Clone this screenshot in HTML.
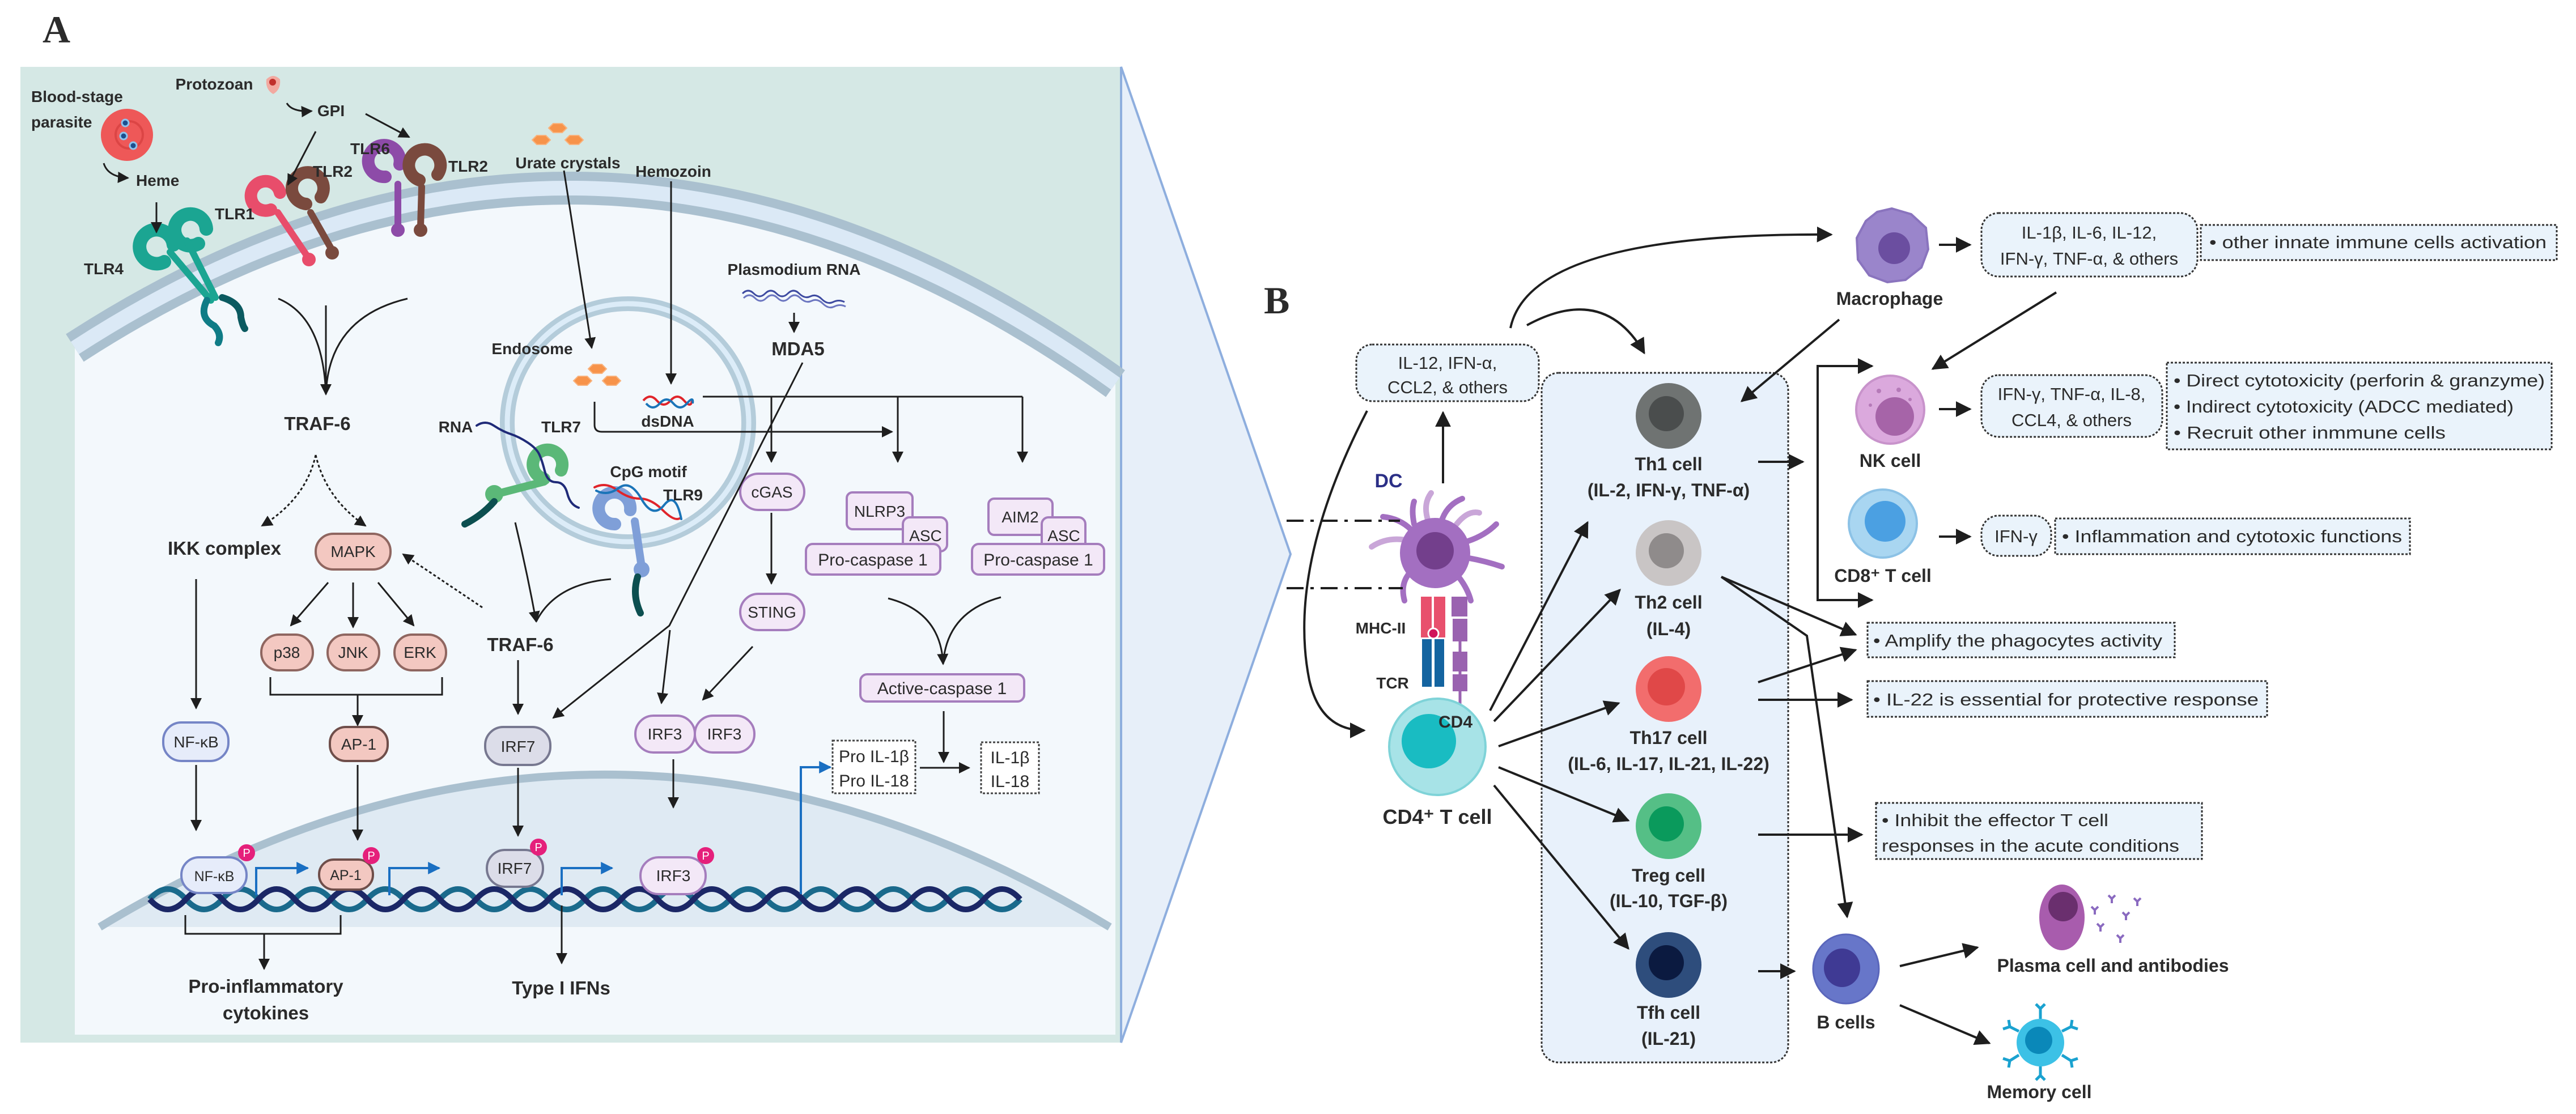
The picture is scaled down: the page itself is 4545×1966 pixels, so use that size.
<!DOCTYPE html>
<html><head><meta charset="utf-8"><style>
html,body{margin:0;padding:0;background:#fff}
svg{display:block}
text{font-family:"Liberation Sans",sans-serif;fill:#2b2b2b}
.b{font-weight:bold}
</style></head><body>
<svg width="4545" height="1966" viewBox="0 0 4545 1966" xmlns="http://www.w3.org/2000/svg">
<defs>
<marker id="a" viewBox="0 0 10 10" refX="9" refY="5" markerWidth="20" markerHeight="20" markerUnits="userSpaceOnUse" orient="auto"><path d="M0,0L10,5L0,10z" fill="#1e1e1e"/></marker>
<marker id="al" viewBox="0 0 10 10" refX="9" refY="5" markerWidth="28" markerHeight="28" markerUnits="userSpaceOnUse" orient="auto"><path d="M0,0L10,5L0,10z" fill="#1e1e1e"/></marker>
<marker id="ab" viewBox="0 0 10 10" refX="9" refY="5" markerWidth="22" markerHeight="22" markerUnits="userSpaceOnUse" orient="auto"><path d="M0,0L10,5L0,10z" fill="#1a6fc2"/></marker>
</defs>

<!-- labels A / B -->
<text x="75" y="75" style="font-family:'Liberation Serif',serif;font-weight:bold;font-size:68px" fill="#000">A</text>
<text x="2230" y="553" style="font-family:'Liberation Serif',serif;font-weight:bold;font-size:68px" fill="#000">B</text>

<!-- PANEL A background -->
<polygon points="1978,118 2277,978 1978,1840" fill="#e7eff9" stroke="#8eaede" stroke-width="4"/>
<rect x="36" y="118" width="1942" height="1722" fill="#d5e8e5"/>
<line x1="1978" y1="118" x2="1978" y2="1840" stroke="#8eaede" stroke-width="4"/>
<path d="M132,614 Q1050,20 1968,677 L1968,1826 L132,1826 Z" fill="#f3f8fc"/>
<path d="M132,614 Q1050,20 1968,677" fill="none" stroke="#aac0cf" stroke-width="58"/>
<path d="M132,614 Q1050,20 1968,677" fill="none" stroke="#dbe9f6" stroke-width="26"/>
<!-- nucleus -->
<path d="M176,1636 Q1067,1098 1958,1636 Z" fill="#dfeaf3"/>
<path d="M176,1636 Q1067,1098 1958,1636" fill="none" stroke="#aac0cf" stroke-width="14"/>
<!-- endosome -->
<ellipse cx="1108" cy="746" rx="213" ry="210" fill="none" stroke="#b4ccda" stroke-width="26"/>
<ellipse cx="1108" cy="746" rx="213" ry="210" fill="none" stroke="#dcecf8" stroke-width="9"/>

<!-- DNA helix -->
<path d="M264,1587 q32,-36 64,0 t64,0 t64,0 t64,0 t64,0 t64,0 t64,0 t64,0 t64,0 t64,0 t64,0 t64,0 t64,0 t64,0 t64,0 t64,0 t64,0 t64,0 t64,0 t64,0 t64,0 t64,0 t64,0 t64,0" fill="none" stroke="#1a6a8c" stroke-width="10"/>
<path d="M264,1587 q32,36 64,0 t64,0 t64,0 t64,0 t64,0 t64,0 t64,0 t64,0 t64,0 t64,0 t64,0 t64,0 t64,0 t64,0 t64,0 t64,0 t64,0 t64,0 t64,0 t64,0 t64,0 t64,0 t64,0 t64,0" fill="none" stroke="#1b2766" stroke-width="10"/>

<!-- red blood cell & protozoan -->
<circle cx="224" cy="238" r="46" fill="#ee5858"/>
<circle cx="228" cy="238" r="24" fill="none" stroke="#dc4545" stroke-width="4"/>
<circle cx="221" cy="217" r="6" fill="#1d4f8f" stroke="#8ec3ee" stroke-width="3"/>
<circle cx="218" cy="240" r="6" fill="#1d4f8f" stroke="#8ec3ee" stroke-width="3"/>
<circle cx="235" cy="257" r="6" fill="#1d4f8f" stroke="#8ec3ee" stroke-width="3"/>
<path d="M470,140 Q482,128 494,140 Q496,158 482,166 Q468,158 470,140Z" fill="#f2a9a0"/>
<circle cx="481" cy="145" r="6" fill="#c0302c"/>
<!-- urate crystals -->
<g fill="#f7934a" stroke="#f9b27c" stroke-width="2">
<polygon points="968,226 976,218 992,218 1000,226 992,234 976,234"/>
<polygon points="939,247 947,239 963,239 971,247 963,255 947,255"/>
<polygon points="997,247 1005,239 1021,239 1029,247 1021,255 1005,255"/>
<polygon points="1038,651 1046,643 1062,643 1070,651 1062,659 1046,659"/>
<polygon points="1012,672 1020,664 1036,664 1044,672 1036,680 1020,680"/>
<polygon points="1063,672 1071,664 1087,664 1095,672 1087,680 1071,680"/>
</g>
<!-- plasmodium RNA -->
<path d="M1310,518 q10,-10 20,0 t20,0 t20,0 t20,0 t20,0 t20,5 t20,5 t20,5 t20,0" fill="none" stroke="#3d4aa0" stroke-width="3"/>
<path d="M1312,526 q10,-10 20,0 t20,0 t20,0 t20,0 t20,0 t20,5 t20,5 t20,5 t20,0" fill="none" stroke="#6c76c0" stroke-width="3"/>
<!-- dsDNA small -->
<path d="M1135,707 q12,-14 24,0 t24,0 t24,0 t14,0" fill="none" stroke="#e0242a" stroke-width="4"/>
<path d="M1140,712 q12,14 24,0 t24,0 t24,0 t10,0" fill="none" stroke="#1a74b8" stroke-width="4"/>

<!-- receptors -->
<g stroke-linecap="round" fill="none">
<!-- TLR4 teal -->
<path d="M290,462 A30,30 0 1 1 306,432" stroke="#1ba592" stroke-width="24"/>
<path d="M350,430 A28,28 0 1 1 364,404" stroke="#1ba592" stroke-width="24"/>
<path d="M300,445 L372,530 M330,425 L380,525" stroke="#1ba592" stroke-width="12"/>
<path d="M365,530 Q350,560 378,575 Q392,590 385,605" stroke="#0f7c86" stroke-width="12"/>
<path d="M392,525 Q425,535 425,560 Q428,575 432,580" stroke="#0b5a60" stroke-width="12"/>
<!-- TLR1 pink -->
<path d="M478,370 A26,26 0 1 1 494,340" stroke="#e84d6b" stroke-width="22"/>
<path d="M490,375 L542,452" stroke="#e84d6b" stroke-width="12"/>
<circle cx="545" cy="458" r="12" fill="#e84d6b"/>
<!-- TLR2 brown -->
<path d="M540,360 A28,28 0 1 1 566,348" stroke="#7a4a3e" stroke-width="22"/>
<path d="M548,375 L585,440" stroke="#7a4a3e" stroke-width="12"/>
<circle cx="586" cy="446" r="12" fill="#7a4a3e"/>
<!-- TLR6 purple -->
<path d="M680,312 A28,28 0 1 1 705,290" stroke="#8d4ba8" stroke-width="22"/>
<path d="M702,325 L702,400" stroke="#8d4ba8" stroke-width="12"/>
<circle cx="702" cy="406" r="12" fill="#8d4ba8"/>
<!-- TLR2 brown -->
<path d="M740,318 A28,28 0 1 1 772,308" stroke="#7a4a3e" stroke-width="22"/>
<path d="M744,330 L742,400" stroke="#7a4a3e" stroke-width="12"/>
<circle cx="742" cy="406" r="12" fill="#7a4a3e"/>
<!-- TLR7 green -->
<path d="M960,845 A26,26 0 1 1 990,830" stroke="#5bb878" stroke-width="22"/>
<path d="M960,850 L875,872" stroke="#5bb878" stroke-width="14"/>
<circle cx="872" cy="872" r="16" fill="#5bb878"/>
<path d="M872,885 Q850,910 820,925" stroke="#0c4f50" stroke-width="12"/>
<!-- TLR9 blue -->
<path d="M1085,925 A28,28 0 1 1 1112,900" stroke="#7f9fd8" stroke-width="22"/>
<path d="M1120,920 L1132,1000" stroke="#7f9fd8" stroke-width="14"/>
<circle cx="1132" cy="1005" r="14" fill="#7f9fd8"/>
<path d="M1125,1018 Q1115,1050 1130,1082" stroke="#0c4f50" stroke-width="12"/>
<!-- RNA / CpG -->
<path d="M841,751 q15,-10 30,0 t30,15 t30,15 t20,20 t10,30 t20,20 t20,20 t20,25" stroke="#1f2a78" stroke-width="4"/>
<path d="M1049,860 q20,-10 40,5 t40,15 t40,20 t30,15" stroke="#e0242a" stroke-width="4"/>
<path d="M1052,866 q20,10 40,-5 t40,20 t40,10 t30,25" stroke="#1a74b8" stroke-width="4"/>
</g>

<!-- Panel A text -->
<g class="b" style="font-size:28px;font-weight:bold">
<text x="55" y="180">Blood-stage</text>
<text x="55" y="225">parasite</text>
<text x="240" y="328">Heme</text>
<text x="378" y="158" text-anchor="middle">Protozoan</text>
<text x="584" y="205" text-anchor="middle">GPI</text>
<text x="653" y="272" text-anchor="middle">TLR6</text>
<text x="587" y="312" text-anchor="middle">TLR2</text>
<text x="826" y="303" text-anchor="middle">TLR2</text>
<text x="414" y="387" text-anchor="middle">TLR1</text>
<text x="183" y="484" text-anchor="middle">TLR4</text>
<text x="1002" y="297" text-anchor="middle">Urate crystals</text>
<text x="1188" y="312" text-anchor="middle">Hemozoin</text>
<text x="1401" y="485" text-anchor="middle">Plasmodium RNA</text>
<text x="939" y="625" text-anchor="middle">Endosome</text>
<text x="1178" y="753" text-anchor="middle">dsDNA</text>
<text x="804" y="763" text-anchor="middle">RNA</text>
<text x="990" y="763" text-anchor="middle">TLR7</text>
<text x="1144" y="842" text-anchor="middle">CpG motif</text>
<text x="1205" y="883" text-anchor="middle">TLR9</text>
</g>
<g style="font-size:33px;font-weight:bold">
<text x="1408" y="627" text-anchor="middle">MDA5</text>
<text x="560" y="759" text-anchor="middle">TRAF-6</text>
<text x="918" y="1149" text-anchor="middle">TRAF-6</text>
<text x="396" y="979" text-anchor="middle">IKK complex</text>
<text x="469" y="1752" text-anchor="middle">Pro-inflammatory</text>
<text x="469" y="1799" text-anchor="middle">cytokines</text>
<text x="990" y="1755" text-anchor="middle">Type I IFNs</text>
</g>

<!-- pills -->
<g style="font-size:28px" text-anchor="middle">
<rect x="557" y="942" width="132" height="63" rx="31" fill="#f3c8c1" stroke="#8f6660" stroke-width="4"/><text x="623" y="983">MAPK</text>
<rect x="461" y="1120" width="91" height="63" rx="31" fill="#f3c8c1" stroke="#8f6660" stroke-width="4"/><text x="506" y="1161">p38</text>
<rect x="578" y="1120" width="91" height="63" rx="31" fill="#f3c8c1" stroke="#8f6660" stroke-width="4"/><text x="623" y="1161">JNK</text>
<rect x="696" y="1120" width="91" height="63" rx="31" fill="#f3c8c1" stroke="#8f6660" stroke-width="4"/><text x="741" y="1161">ERK</text>
<rect x="582" y="1283" width="102" height="60" rx="28" fill="#f3c8c1" stroke="#6f4e4a" stroke-width="4"/><text x="633" y="1323">AP-1</text>
<rect x="288" y="1275" width="115" height="68" rx="32" fill="#e6ecfa" stroke="#7585c6" stroke-width="4"/><text x="346" y="1319">NF-κB</text>
<rect x="856" y="1283" width="115" height="67" rx="32" fill="#dcdde9" stroke="#777890" stroke-width="4"/><text x="914" y="1327">IRF7</text>
<rect x="1121" y="1263" width="105" height="65" rx="32" fill="#f3e8f7" stroke="#a57dbd" stroke-width="4"/><text x="1173" y="1305">IRF3</text>
<rect x="1226" y="1263" width="105" height="65" rx="32" fill="#f3e8f7" stroke="#a57dbd" stroke-width="4"/><text x="1278" y="1305">IRF3</text>
<rect x="1306" y="836" width="113" height="64" rx="32" fill="#f3e8f7" stroke="#a57dbd" stroke-width="4"/><text x="1362" y="878">cGAS</text>
<rect x="1306" y="1048" width="113" height="64" rx="32" fill="#f3e8f7" stroke="#a57dbd" stroke-width="4"/><text x="1362" y="1090">STING</text>
<!-- nuclear -->
<rect x="320" y="1513" width="115" height="63" rx="31" fill="#e6ecfa" stroke="#7585c6" stroke-width="4"/><text x="378" y="1555" style="font-size:25px">NF-κB</text>
<rect x="563" y="1517" width="95" height="53" rx="26" fill="#f3c8c1" stroke="#6f4e4a" stroke-width="4"/><text x="610" y="1553" style="font-size:25px">AP-1</text>
<rect x="859" y="1500" width="99" height="65" rx="32" fill="#dcdde9" stroke="#777890" stroke-width="4"/><text x="908" y="1542">IRF7</text>
<rect x="1130" y="1513" width="115" height="65" rx="32" fill="#f3e8f7" stroke="#a57dbd" stroke-width="4"/><text x="1188" y="1555">IRF3</text>
<!-- inflammasome -->
<rect x="1494" y="869" width="116" height="65" rx="10" fill="#f3e8f7" stroke="#a57dbd" stroke-width="4"/><text x="1552" y="912">NLRP3</text>
<rect x="1593" y="913" width="78" height="60" rx="12" fill="#f3e8f7" stroke="#a57dbd" stroke-width="4"/><text x="1633" y="955">ASC</text>
<rect x="1422" y="960" width="237" height="54" rx="12" fill="#f3e8f7" stroke="#a57dbd" stroke-width="4"/><text x="1540" y="998" style="font-size:30px">Pro-caspase 1</text>
<rect x="1744" y="880" width="113" height="64" rx="10" fill="#f3e8f7" stroke="#a57dbd" stroke-width="4"/><text x="1800" y="922">AIM2</text>
<rect x="1838" y="913" width="77" height="60" rx="12" fill="#f3e8f7" stroke="#a57dbd" stroke-width="4"/><text x="1877" y="955">ASC</text>
<rect x="1715" y="960" width="233" height="54" rx="12" fill="#f3e8f7" stroke="#a57dbd" stroke-width="4"/><text x="1832" y="998" style="font-size:30px">Pro-caspase 1</text>
<rect x="1518" y="1190" width="289" height="48" rx="12" fill="#f3e8f7" stroke="#a57dbd" stroke-width="4"/><text x="1662" y="1225" style="font-size:30px">Active-caspase 1</text>
<rect x="1469" y="1307" width="146" height="93" fill="#fff" stroke="#444" stroke-width="3" stroke-dasharray="4 3"/>
<text x="1542" y="1345" style="font-size:30px">Pro IL-1β</text><text x="1542" y="1388" style="font-size:30px">Pro IL-18</text>
<rect x="1731" y="1310" width="102" height="90" fill="#fff" stroke="#444" stroke-width="3" stroke-dasharray="4 3"/>
<text x="1782" y="1347" style="font-size:30px">IL-1β</text><text x="1782" y="1389" style="font-size:30px">IL-18</text>
</g>
<!-- P badges -->
<g font-size="20" text-anchor="middle">
<circle cx="435" cy="1505" r="15" fill="#e5207b"/><text x="435" y="1512" fill="#fff" style="fill:#fff;font-size:20px">P</text>
<circle cx="655" cy="1510" r="15" fill="#e5207b"/><text x="655" y="1517" style="fill:#fff;font-size:20px">P</text>
<circle cx="950" cy="1495" r="15" fill="#e5207b"/><text x="950" y="1502" style="fill:#fff;font-size:20px">P</text>
<circle cx="1245" cy="1510" r="15" fill="#e5207b"/><text x="1245" y="1517" style="fill:#fff;font-size:20px">P</text>
</g>

<!-- Panel A connectors -->
<g fill="none" stroke="#1e1e1e" stroke-width="3">
<path d="M183,288 Q190,312 226,314" marker-end="url(#a)"/>
<path d="M276,357 L276,410" marker-end="url(#a)"/>
<path d="M506,182 Q515,198 550,196" marker-end="url(#a)"/>
<path d="M557,232 L508,326" marker-end="url(#a)"/>
<path d="M645,201 L722,242" marker-end="url(#a)"/>
<path d="M491,527 Q570,560 575,696"/><path d="M575,539 L575,696" marker-end="url(#a)"/><path d="M719,527 Q580,560 575,696"/>
<path d="M995,301 L1044,614" marker-end="url(#a)"/>
<path d="M1184,320 L1184,677" marker-end="url(#a)"/>
<path d="M1401,552 L1401,586" marker-end="url(#a)"/>
<path d="M1416,640 L1181,1104 L976,1267" marker-end="url(#a)"/>
<path d="M1182,1112 L1167,1241" marker-end="url(#a)"/>
<path d="M1240,700 L1804,700"/>
<path d="M1361,700 L1361,815" marker-end="url(#a)"/>
<path d="M1584,700 L1584,815" marker-end="url(#a)"/>
<path d="M1804,700 L1804,815" marker-end="url(#a)"/>
<path d="M1049,709 L1049,750 Q1049,762 1062,762 L1574,762" marker-end="url(#a)"/>
<path d="M557,803 Q540,880 462,928" stroke-dasharray="5 4" marker-end="url(#a)"/>
<path d="M557,803 Q575,880 645,928" stroke-dasharray="5 4" marker-end="url(#a)"/>
<path d="M851,1072 L711,978" stroke-dasharray="5 4" marker-end="url(#a)"/>
<path d="M579,1028 L513,1104" marker-end="url(#a)"/>
<path d="M623,1028 L623,1107" marker-end="url(#a)"/>
<path d="M667,1028 L730,1104" marker-end="url(#a)"/>
<path d="M477,1195 L477,1226 L780,1226 L780,1195"/>
<path d="M631,1226 L631,1280" marker-end="url(#a)"/>
<path d="M346,1022 L346,1250" marker-end="url(#a)"/>
<path d="M346,1350 L346,1465" marker-end="url(#a)"/>
<path d="M631,1350 L631,1482" marker-end="url(#a)"/>
<path d="M909,922 Q930,1010 946,1097" marker-end="url(#a)"/>
<path d="M1078,1022 Q980,1030 946,1097"/>
<path d="M914,1165 L914,1260" marker-end="url(#a)"/>
<path d="M914,1355 L914,1475" marker-end="url(#a)"/>
<path d="M1361,905 L1361,1030" marker-end="url(#a)"/>
<path d="M1328,1141 L1240,1235" marker-end="url(#a)"/>
<path d="M1188,1340 L1188,1425" marker-end="url(#a)"/>
<path d="M1567,1056 Q1660,1080 1664,1172" marker-end="url(#a)"/>
<path d="M1766,1054 Q1670,1080 1664,1172"/>
<path d="M1665,1255 L1665,1345" marker-end="url(#a)"/>
<path d="M1623,1355 L1710,1355" marker-end="url(#a)"/>
<path d="M327,1615 L327,1648 L601,1648 L601,1615"/>
<path d="M466,1648 L466,1710" marker-end="url(#a)"/>
<path d="M991,1598 L991,1700" marker-end="url(#a)"/>
</g>
<g fill="none" stroke="#1a6fc2" stroke-width="4">
<path d="M452,1580 L452,1532 L543,1532" marker-end="url(#ab)"/>
<path d="M687,1580 L687,1532 L775,1532" marker-end="url(#ab)"/>
<path d="M991,1580 L991,1532 L1080,1532" marker-end="url(#ab)"/>
<path d="M1413,1578 L1413,1354 L1465,1354" marker-end="url(#ab)"/>
</g>

<!-- PANEL B -->
<rect x="2720" y="658" width="435" height="1217" rx="30" fill="#e8f1fb" stroke="#333" stroke-width="3" stroke-dasharray="4 3"/>
<g stroke="#333" stroke-width="3" stroke-dasharray="4 3" fill="#eaf3fb">
<rect x="2393" y="608" width="322" height="100" rx="28"/>
<rect x="3496" y="376" width="381" height="112" rx="30"/>
<rect x="3883" y="397" width="628" height="62"/>
<rect x="3496" y="662" width="319" height="109" rx="30"/>
<rect x="3823" y="640" width="679" height="153"/>
<rect x="3496" y="910" width="123" height="71" rx="30"/>
<rect x="3626" y="915" width="626" height="63"/>
<rect x="3295" y="1099" width="542" height="61"/>
<rect x="3295" y="1202" width="705" height="63"/>
<rect x="3310" y="1417" width="575" height="99"/>
</g>
<g style="font-size:31px" text-anchor="middle">
<text x="2554" y="651">IL-12, IFN-α,</text>
<text x="2554" y="694">CCL2, &amp; others</text>
<text x="3686" y="421">IL-1β, IL-6, IL-12,</text>
<text x="3686" y="467">IFN-γ, TNF-α, &amp; others</text>
<text x="3655" y="706">IFN-γ, TNF-α, IL-8,</text>
<text x="3655" y="752">CCL4, &amp; others</text>
<text x="3557" y="957">IFN-γ</text>
</g>
<g style="font-size:31px">
<text x="3898" y="438" textLength="595" lengthAdjust="spacingAndGlyphs">• other innate immune cells activation</text>
<text x="3835" y="682" textLength="655" lengthAdjust="spacingAndGlyphs">• Direct cytotoxicity (perforin &amp; granzyme)</text>
<text x="3835" y="728" textLength="600" lengthAdjust="spacingAndGlyphs">• Indirect cytotoxicity (ADCC mediated)</text>
<text x="3835" y="774" textLength="480" lengthAdjust="spacingAndGlyphs">•  Recruit other inmmune cells</text>
<text x="3638" y="957" textLength="600" lengthAdjust="spacingAndGlyphs">• Inflammation and cytotoxic functions</text>
<text x="3305" y="1141" textLength="510" lengthAdjust="spacingAndGlyphs">• Amplify the phagocytes activity</text>
<text x="3305" y="1245" textLength="680" lengthAdjust="spacingAndGlyphs">• IL-22 is essential for protective response</text>
<text x="3320" y="1458" textLength="400" lengthAdjust="spacingAndGlyphs">• Inhibit the effector T cell</text>
<text x="3320" y="1503" textLength="525" lengthAdjust="spacingAndGlyphs">responses in the acute conditions</text>
</g>

<!-- cells -->
<!-- macrophage -->
<path d="M3338,368 L3372,378 L3398,402 L3402,440 L3390,472 L3362,494 L3330,498 L3298,486 L3278,458 L3276,420 L3292,390 L3312,374Z" fill="#9a85cb" stroke="#8a74be" stroke-width="4"/>
<circle cx="3342" cy="438" r="28" fill="#6b4ea0"/>
<!-- NK -->
<circle cx="3335" cy="723" r="60" fill="#dba9dd" stroke="#c893cb" stroke-width="4"/>
<circle cx="3343" cy="735" r="34" fill="#a664a8"/>
<circle cx="3315" cy="690" r="4" fill="#b57ab8"/><circle cx="3300" cy="715" r="3" fill="#b57ab8"/><circle cx="3350" cy="688" r="4" fill="#b57ab8"/><circle cx="3370" cy="705" r="3" fill="#b57ab8"/>
<!-- CD8 -->
<circle cx="3322" cy="924" r="60" fill="#a9d6f1" stroke="#8cc2e6" stroke-width="4"/>
<circle cx="3326" cy="920" r="36" fill="#4ba0e2"/>
<!-- Th cells -->
<circle cx="2944" cy="734" r="58" fill="#6f7372"/><circle cx="2940" cy="730" r="31" fill="#4a4d4d"/>
<circle cx="2944" cy="976" r="58" fill="#c9c5c5"/><circle cx="2940" cy="972" r="31" fill="#8f8b8b"/>
<circle cx="2944" cy="1216" r="58" fill="#f26d6d"/><circle cx="2940" cy="1212" r="33" fill="#e04848"/>
<circle cx="2944" cy="1458" r="58" fill="#55bf86"/><circle cx="2940" cy="1454" r="31" fill="#0a9a5c"/>
<circle cx="2944" cy="1703" r="58" fill="#2e4d7c"/><circle cx="2940" cy="1699" r="31" fill="#0b1a40"/>
<g style="font-size:32px;font-weight:bold" text-anchor="middle">
<text x="2944" y="830">Th1 cell</text>
<text x="2944" y="876">(IL-2, IFN-γ, TNF-α)</text>
<text x="2944" y="1074">Th2 cell</text>
<text x="2944" y="1121">(IL-4)</text>
<text x="2944" y="1313">Th17 cell</text>
<text x="2944" y="1359">(IL-6, IL-17, IL-21, IL-22)</text>
<text x="2944" y="1556">Treg cell</text>
<text x="2944" y="1601">(IL-10, TGF-β)</text>
<text x="2944" y="1798">Tfh cell</text>
<text x="2944" y="1844">(IL-21)</text>
<text x="3334" y="538">Macrophage</text>
<text x="3335" y="824">NK cell</text>
<text x="3322" y="1027">CD8⁺ T cell</text>
<text x="3257" y="1815">B cells</text>
<text x="3728" y="1715">Plasma cell and antibodies</text>
<text x="3598" y="1938">Memory cell</text>
<text x="2536" y="1454" style="font-size:36px">CD4⁺ T cell</text>
<text x="2450" y="860" style="fill:#2b2f86;font-size:34px">DC</text>
<text x="2436" y="1118" style="font-size:28px">MHC-II</text>
<text x="2457" y="1215" style="font-size:28px">TCR</text>
</g>
<!-- B cell, plasma, memory -->
<ellipse cx="3257" cy="1710" rx="58" ry="61" fill="#6776c9" stroke="#5a66bb" stroke-width="3"/>
<ellipse cx="3250" cy="1708" rx="32" ry="34" fill="#3f3a94"/>
<ellipse cx="3638" cy="1619" rx="40" ry="58" fill="#a85cad"/>
<circle cx="3640" cy="1600" r="26" fill="#6a2f6e"/>
<g stroke="#8a6ac0" stroke-width="4" fill="none">
<path d="M3690,1600 l6,6 l6,-6 m-6,6 v8"/><path d="M3720,1580 l6,6 l6,-6 m-6,6 v8"/><path d="M3745,1610 l6,6 l6,-6 m-6,6 v8"/><path d="M3700,1630 l6,6 l6,-6 m-6,6 v8"/><path d="M3735,1650 l6,6 l6,-6 m-6,6 v8"/><path d="M3765,1585 l6,6 l6,-6 m-6,6 v8"/>
</g>
<circle cx="3600" cy="1840" r="42" fill="#3cc1e6"/><circle cx="3597" cy="1836" r="24" fill="#0a88b9"/>
<g stroke="#1aa2d0" stroke-width="5" fill="none">
<path d="M3600,1798 v-18 m-8,-8 l8,8 l8,-8"/><path d="M3600,1882 v16 m-8,8 l8,-8 l8,8"/>
<path d="M3562,1820 l-16,-8 m-2,-12 l2,12 l-12,4"/><path d="M3638,1820 l16,-8 m2,-12 l-2,12 l12,4"/>
<path d="M3562,1862 l-16,10 m-12,-4 l12,4 l-2,12"/><path d="M3638,1862 l16,10 m12,-4 l-12,4 l2,12"/>
</g>
<!-- DC -->
<g stroke="#c9a6d8" stroke-width="10" stroke-linecap="round" fill="none">
<path d="M2490,955 Q2450,945 2420,965"/><path d="M2570,925 Q2590,900 2610,905"/><path d="M2520,920 Q2510,890 2525,870"/>
</g>
<g stroke="#a36fc1" stroke-width="10" stroke-linecap="round" fill="none">
<path d="M2490,935 Q2470,915 2440,912"/><path d="M2495,925 Q2490,900 2495,885"/><path d="M2545,915 Q2555,890 2580,880"/>
<path d="M2590,955 Q2620,945 2640,925"/><path d="M2592,985 Q2620,990 2650,1000"/><path d="M2575,1020 Q2590,1040 2595,1060"/><path d="M2488,1010 Q2470,1030 2478,1060"/>
</g>
<circle cx="2532" cy="976" r="62" fill="#a36fc1"/>
<circle cx="2532" cy="972" r="33" fill="#733f8c"/>
<!-- MHC/TCR/CD4 -->
<rect x="2507" y="1053" width="19" height="72" fill="#e8506d"/><rect x="2530" y="1053" width="20" height="72" fill="#e8506d"/>
<circle cx="2529" cy="1118" r="9" fill="#d0145a" stroke="#fff" stroke-width="3"/>
<rect x="2509" y="1128" width="17" height="84" fill="#1464a0"/><rect x="2531" y="1128" width="17" height="84" fill="#1464a0"/>
<rect x="2561" y="1053" width="28" height="35" fill="#9a62b0"/><rect x="2563" y="1092" width="26" height="40" fill="#9a62b0"/><rect x="2563" y="1150" width="26" height="35" fill="#9a62b0"/><rect x="2563" y="1190" width="26" height="30" fill="#9a62b0"/>
<line x1="2576" y1="1130" x2="2576" y2="1245" stroke="#9a62b0" stroke-width="5"/>
<!-- CD4 T cell -->
<circle cx="2536" cy="1318" r="85" fill="#a7e3e7" stroke="#7fd3d8" stroke-width="4"/>
<circle cx="2521" cy="1308" r="48" fill="#19bcc2"/>
<text x="2568" y="1284" text-anchor="middle" style="font-size:30px;font-weight:bold">CD4</text>

<!-- Panel B connectors -->
<g fill="none" stroke="#1e1e1e" stroke-width="4">
<path d="M2270,919 L2470,919" stroke-dasharray="30 12 6 12"/>
<path d="M2270,1038 L2475,1038" stroke-dasharray="30 12 6 12"/>
<path d="M2546,853 L2546,728" marker-end="url(#al)"/>
<path d="M2412,725 Q2270,1000 2310,1200 Q2330,1289 2407,1289" marker-end="url(#al)"/>
<path d="M2665,579 Q2700,410 3231,414" marker-end="url(#al)"/>
<path d="M2694,574 Q2830,500 2901,623" marker-end="url(#al)"/>
<path d="M3245,564 L3073,708" marker-end="url(#al)"/>
<path d="M3421,432 L3476,432" marker-end="url(#al)"/>
<path d="M3628,516 L3410,651" marker-end="url(#al)"/>
<path d="M3102,815 L3181,815" marker-end="url(#al)"/>
<path d="M3303,646 L3207,646 L3207,1059 L3303,1059" marker-end="url(#al)"/>
<path d="M3207,646 L3303,646" marker-end="url(#al)"/>
<path d="M3421,722 L3476,722" marker-end="url(#al)"/>
<path d="M3421,947 L3476,947" marker-end="url(#al)"/>
<path d="M3037,1018 L3274,1120" marker-end="url(#al)"/>
<path d="M3037,1018 L3188,1122 L3259,1618" marker-end="url(#al)"/>
<path d="M3102,1204 L3274,1147" marker-end="url(#al)"/>
<path d="M3102,1235 L3267,1235" marker-end="url(#al)"/>
<path d="M3102,1473 L3285,1473" marker-end="url(#al)"/>
<path d="M3102,1714 L3166,1714" marker-end="url(#al)"/>
<path d="M3352,1705 L3489,1672" marker-end="url(#al)"/>
<path d="M3352,1774 L3510,1841" marker-end="url(#al)"/>
<path d="M2629,1254 L2801,922" marker-end="url(#al)"/>
<path d="M2636,1273 L2858,1041" marker-end="url(#al)"/>
<path d="M2644,1317 L2856,1241" marker-end="url(#al)"/>
<path d="M2644,1354 L2873,1448" marker-end="url(#al)"/>
<path d="M2636,1386 L2873,1674" marker-end="url(#al)"/>
</g>
</svg>
</body></html>
